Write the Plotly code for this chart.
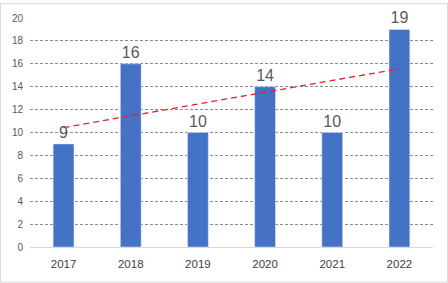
import numpy as np
import plotly.graph_objects as go

years = ["2017", "2018", "2019", "2020", "2021", "2022"]
values = [9, 16, 10, 14, 10, 19]
y_ticks = [0, 2, 4, 6, 8, 10, 12, 14, 16, 18, 20]

# linear trend of the series
xi = np.arange(1, len(values) + 1)
slope, intercept = np.polyfit(xi, values, 1)
trend = list(slope * xi + intercept)

W, H = 448, 283
ml, mr, mt, mb = 30, 15, 15, 36
pw, ph = W - ml - mr, H - mt - mb

fig = go.Figure()
fig.add_trace(go.Bar(
    x=years, y=values, marker_color="#4472C4", width=0.31,
    text=[str(v) for v in values], textposition="outside",
    textfont=dict(size=16, color="#595959"), cliponaxis=False,
))
fig.add_trace(go.Scatter(
    x=years, y=trend, mode="lines",
    line=dict(color="#E0242B", width=1.3, dash="6px,4px"),
    hoverinfo="skip",
))

fig.update_layout(
    width=W, height=H, margin=dict(l=ml, r=mr, t=mt, b=mb),
    paper_bgcolor="white", plot_bgcolor="white", showlegend=False,
    font=dict(family="Liberation Sans, Arial, sans-serif", size=11, color="#595959"),
    xaxis=dict(showgrid=False, showline=True, linecolor="#D9D9D9", linewidth=1,
               ticks="", tickfont=dict(size=11.5, color="#404040"), ticklabelstandoff=6),
    yaxis=dict(range=[0, 20], tickvals=y_ticks, showgrid=True, gridcolor="#8C8C8C",
               griddash="3px,2px", gridwidth=1, zeroline=False, showline=False,
               tickfont=dict(size=10, color="#595959"), ticks="", ticklabelstandoff=6),
    shapes=[dict(type="rect", xref="paper", yref="paper",
                 x0=(0.5 - ml) / pw, x1=(W - 0.5 - ml) / pw,
                 y0=(H - mb - (H - 0.5)) / ph, y1=(H - mb - 0.5) / ph,
                 line=dict(color="#D9D9D9", width=1), layer="below")],
)
fig.write_html("out.html", config={"displayModeBar": False},
               post_script="document.body.style.margin='0';document.body.style.overflow='hidden';")
